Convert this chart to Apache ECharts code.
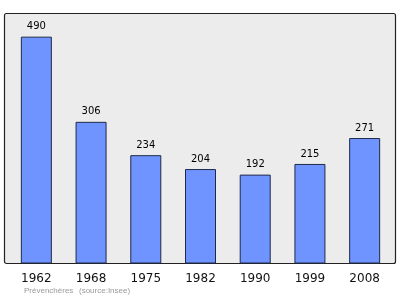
<!DOCTYPE html>
<html><head><meta charset="utf-8">
<script src="https://cdn.jsdelivr.net/npm/echarts@6/dist/echarts.min.js"></script>
<style>html,body{margin:0;padding:0;background:#fff}#c{width:400px;height:299px}</style>
</head><body><div id="c"></div>
<script>
const years = ['1962','1968','1975','1982','1990','1999','2008'];
const population = [490, 306, 234, 204, 192, 215, 271];
const commune = 'Prévenchères';
const source = '(source:Insee)';

const chart = echarts.init(document.getElementById('c'), null, {renderer:'canvas'});
chart.setOption({
  animation: false,
  graphic: [
    {type:'rect', z:-10, shape:{x:4.5,y:13.5,width:391,height:250,r:2}, style:{fill:'#ececec', stroke:'#222', lineWidth:1.2}},
    {type:'text', left:24, top:287, style:{text:commune, fill:'#999', font:'8px "Liberation Sans"'}},
    {type:'text', left:79, top:287, style:{text:source, fill:'#999', font:'8px "Liberation Sans"'}}
  ],
  grid: {left:9, right:8, top:13.5, bottom:35.5, containLabel:false},
  xAxis: {
    type:'category', data: years,
    axisLine:{show:false}, axisTick:{show:false},
    axisLabel:{color:'#111', fontSize:12, fontFamily:'DejaVu Sans', margin:9}
  },
  yAxis: {type:'value', min:0, max:540, show:false, splitLine:{show:false}},
  series: [{
    type:'bar', data: population, barWidth: 31,
    itemStyle:{color:'#7094ff', borderColor:'#1e2a48', borderWidth:1},
    label:{show:true, position:'top', distance:5, color:'#000', fontSize:10, fontFamily:'DejaVu Sans'}
  }]
});
</script></body></html>
